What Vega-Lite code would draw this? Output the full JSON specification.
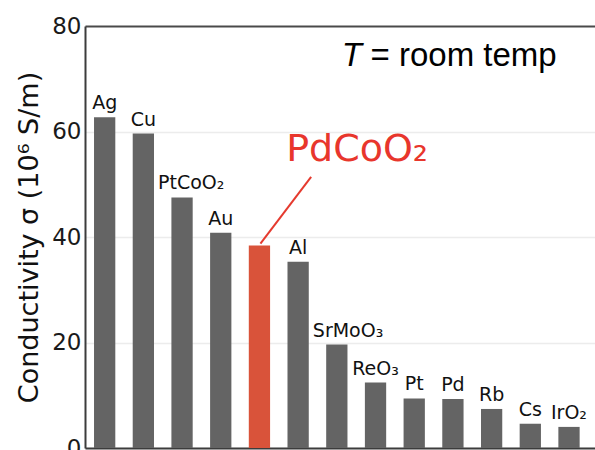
{
  "$schema": "https://vega.github.io/schema/vega-lite/v6.json",
  "width": 510,
  "height": 422,
  "autosize": {"type": "none"},
  "padding": {"left": 85, "top": 26, "right": 0, "bottom": 2},
  "background": "white",
  "config": {"view": {"stroke": null}, "font": "DejaVu Sans"},
  "data": {
    "values": [
      {"material": "Ag", "value": 62.7},
      {"material": "Cu", "value": 59.6},
      {"material": "PtCoO₂", "value": 47.5},
      {"material": "Au", "value": 40.8},
      {"material": "PdCoO₂", "value": 38.4},
      {"material": "Al", "value": 35.3},
      {"material": "SrMoO₃", "value": 19.6},
      {"material": "ReO₃", "value": 12.4},
      {"material": "Pt", "value": 9.4},
      {"material": "Pd", "value": 9.3},
      {"material": "Rb", "value": 7.4},
      {"material": "Cs", "value": 4.6},
      {"material": "IrO₂", "value": 4.0}
    ]
  },
  "encoding": {
    "x": {
      "field": "material",
      "type": "nominal",
      "sort": null,
      "scale": {
        "domain": ["Ag", "Cu", "PtCoO₂", "Au", "PdCoO₂", "Al", "SrMoO₃", "ReO₃", "Pt", "Pd", "Rb", "Cs", "IrO₂"],
        "paddingInner": 0.45,
        "paddingOuter": 0.315,
        "align": 0.37
      },
      "axis": {"labels": false, "ticks": false, "title": null, "grid": false, "domainColor": "#3c3c3c", "domainWidth": 2}
    },
    "y": {
      "field": "value",
      "type": "quantitative",
      "scale": {"domain": [0, 80], "nice": false},
      "axis": {
        "title": "Conductivity σ (10⁶ S/m)",
        "values": [0, 20, 40, 60, 80],
        "labelFont": "DejaVu Sans",
        "labelFontSize": 23,
        "labelColor": "#1a1a1a",
        "labelPadding": 4,
        "ticks": false,
        "domainColor": "#3c3c3c",
        "domainWidth": 2,
        "grid": true,
        "gridColor": {"condition": {"test": "datum.value === 80", "value": "#4a4a4a"}, "value": "#ececec"},
        "gridWidth": {"condition": {"test": "datum.value === 80", "value": 2}, "value": 1.5},
        "titleFont": "DejaVu Sans",
        "titleFontSize": 27,
        "titleFontWeight": "normal",
        "titleColor": "#111111",
        "titlePadding": 8
      }
    }
  },
  "layer": [
    {
      "mark": {"type": "bar"},
      "encoding": {
        "color": {"condition": {"test": "datum.material === 'PdCoO₂'", "value": "#d9533a"}, "value": "#646464"}
      }
    },
    {
      "transform": [{"filter": {"not": {"field": "material", "oneOf": ["PdCoO₂", "PtCoO₂", "SrMoO₃"]}}}],
      "mark": {"type": "text", "baseline": "alphabetic", "align": "center", "dy": -8, "fontSize": 19, "font": "DejaVu Sans", "fill": "#111111"},
      "encoding": {"text": {"field": "material"}}
    },
    {
      "transform": [{"filter": {"field": "material", "oneOf": ["PtCoO₂", "SrMoO₃"]}}],
      "mark": {"type": "text", "baseline": "alphabetic", "align": "left", "dx": -24, "dy": -8, "fontSize": 19, "font": "DejaVu Sans", "fill": "#111111"},
      "encoding": {"text": {"field": "material"}}
    },
    {
      "data": {"values": [{"material": "PdCoO₂", "value": 38.75, "material2": "Al", "value2": 51.4}]},
      "mark": {"type": "rule", "stroke": "#e53a2e", "strokeWidth": 2, "xOffset": 1, "x2Offset": 13},
      "encoding": {
        "x": {"field": "material", "type": "nominal"},
        "x2": {"field": "material2"},
        "y": {"field": "value", "type": "quantitative"},
        "y2": {"field": "value2"}
      }
    },
    {
      "data": {"values": [{"material": "Al", "value": 54.5, "note": "PdCoO₂"}]},
      "mark": {"type": "text", "baseline": "alphabetic", "align": "left", "dx": -12, "fontSize": 38, "font": "DejaVu Sans", "fill": "#e8362c"},
      "encoding": {
        "x": {"field": "material", "type": "nominal"},
        "y": {"field": "value", "type": "quantitative"},
        "text": {"field": "note"}
      }
    },
    {
      "data": {"values": [{"material": "SrMoO₃", "value": 72.4, "note": "T"}]},
      "mark": {"type": "text", "baseline": "alphabetic", "align": "left", "dx": 5, "fontSize": 33, "font": "Liberation Sans", "fontStyle": "italic", "fill": "#000000"},
      "encoding": {
        "x": {"field": "material", "type": "nominal"},
        "y": {"field": "value", "type": "quantitative"},
        "text": {"field": "note"}
      }
    },
    {
      "data": {"values": [{"material": "ReO₃", "value": 72.4, "note": "= room temp"}]},
      "mark": {"type": "text", "baseline": "alphabetic", "align": "left", "dx": -5, "fontSize": 33, "font": "Liberation Sans", "fill": "#000000"},
      "encoding": {
        "x": {"field": "material", "type": "nominal"},
        "y": {"field": "value", "type": "quantitative"},
        "text": {"field": "note"}
      }
    }
  ]
}
